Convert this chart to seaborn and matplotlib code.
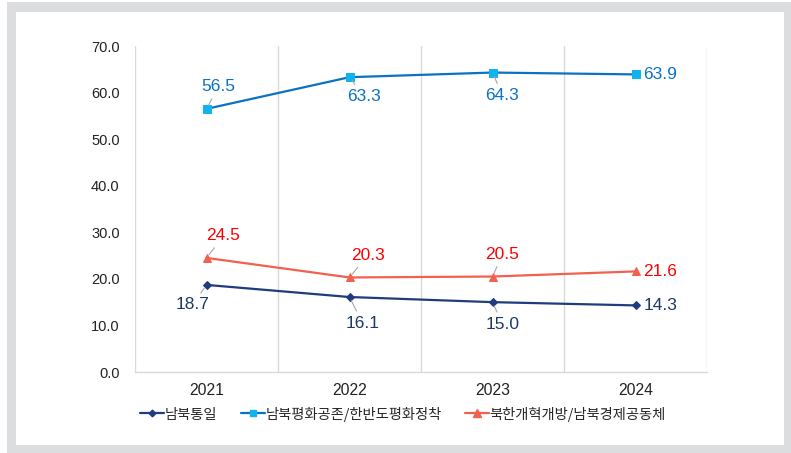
import matplotlib
matplotlib.use("Agg")
import matplotlib.pyplot as plt
from matplotlib.patches import Rectangle
from matplotlib.lines import Line2D
import seaborn as sns
import pandas as pd

years = ["2021", "2022", "2023", "2024"]
s_unif = [18.7, 16.1, 15.0, 14.3]
s_peace = [56.5, 63.3, 64.3, 63.9]
s_open = [24.5, 20.3, 20.5, 21.6]
names = ["남북통일", "남북평화공존/한반도평화정착", "북한개혁개방/남북경제공동체"]
yticks = [0, 10, 20, 30, 40, 50, 60, 70]

sns.set_theme(style="white")
plt.rcParams['font.family'] = ['Liberation Sans', 'Noto Sans CJK KR', 'DejaVu Sans']

W, H = 791, 453
fig = plt.figure(figsize=(W / 100, H / 100), dpi=100)
fig.patch.set_facecolor("white")
fig.patches.append(Rectangle((7 / W, 0), (W - 7) / W, (H - 2) / H, transform=fig.transFigure,
                             facecolor="#dcdddf", edgecolor="none", zorder=-10))
fig.patches.append(Rectangle((16 / W, (H - 445) / H), (784 - 16) / W, (445 - 12) / H,
                             transform=fig.transFigure, facecolor="white", edgecolor="none", zorder=-9))

ax = fig.add_axes([135 / W, 1 - 372 / H, (707 - 135) / W, (372 - 46) / H])
ax.set_facecolor("none")

rows = []
for n, vals in zip(names, [s_unif, s_peace, s_open]):
    for y, v in zip(years, vals):
        rows.append({"year": y, "value": v, "series": n})
df = pd.DataFrame(rows)

line_colors = {names[0]: "#1f3c7e", names[1]: "#0a72c4", names[2]: "#f26150"}
marker_colors = {names[0]: "#1f3c7e", names[1]: "#10b2f0", names[2]: "#f26150"}
markers = {names[0]: "D", names[1]: "s", names[2]: "^"}
msizes = {names[0]: 4, names[1]: 5.2, names[2]: 6}
label_colors = {names[0]: "#1f3864", names[1]: "#0a72c4", names[2]: "#ff0000"}

for n in names:
    sub = df[df.series == n]
    sns.lineplot(data=sub, x="year", y="value", ax=ax, color=line_colors[n], lw=1.6,
                 marker=markers[n], markersize=msizes[n], markerfacecolor=marker_colors[n],
                 markeredgecolor=marker_colors[n], legend=False, zorder=3)

offsets = {
    names[0]: [(-14, -20), (13, -26), (10, -22), (26, 0)],
    names[1]: [(12, 22), (14, -19), (10, -23), (26, 0)],
    names[2]: [(17, 22), (18, 22), (10, 22), (26, 0)],
}
for n, vals in zip(names, [s_unif, s_peace, s_open]):
    for i, v in enumerate(vals):
        dx, dy = offsets[n][i]
        if i == 3:
            ax.annotate(f"{v:.1f}", (i, v), xytext=(8, 0), textcoords="offset pixels",
                        ha="left", va="center", fontsize=12.5, color=label_colors[n])
        else:
            ax.annotate(f"{v:.1f}", (i, v), xytext=(dx, dy), textcoords="offset pixels",
                        ha="center", va="center", fontsize=12.5, color=label_colors[n],
                        arrowprops=dict(arrowstyle="-", color="#a6a6a6", lw=0.8,
                                        shrinkA=1, shrinkB=3))

ax.set_xlim(-0.5, 3.5)
ax.set_ylim(0, 70)
ax.set_yticks(yticks)
ax.set_yticklabels([f"{t:.1f}" for t in yticks])
ax.set_xticks(range(4))
ax.set_xticklabels(years)
ax.set_xticks([-0.5, 0.5, 1.5, 2.5, 3.5], minor=True)
ax.grid(False)
ax.grid(True, which="minor", axis="x", color="#d9d9d9", lw=1)
ax.tick_params(which="both", length=0)
ax.tick_params(axis="y", labelsize=10.5, pad=11, colors="#222222")
ax.tick_params(axis="x", labelsize=11.3, pad=8, colors="#222222")
for s in ["top", "right", "left"]:
    ax.spines[s].set_visible(False)
ax.spines["bottom"].set_color("#d9d9d9")
ax.spines["bottom"].set_linewidth(1)
ax.set_xlabel("")
ax.set_ylabel("")

handles = [Line2D([0], [0], color=line_colors[n], lw=1.6, marker=markers[n],
                  markersize=msizes[n] * 0.85, markerfacecolor=marker_colors[n],
                  markeredgecolor=marker_colors[n]) for n in names]
fig.legend(handles, names, loc="center", bbox_to_anchor=(403 / W, 1 - 414 / H), ncol=3,
           frameon=False, handlelength=1.7, handletextpad=0.02, columnspacing=1.65,
           prop={"family": ["Noto Sans CJK KR", "DejaVu Sans"], "size": 10.3})

fig.savefig("out.png", dpi=100)
